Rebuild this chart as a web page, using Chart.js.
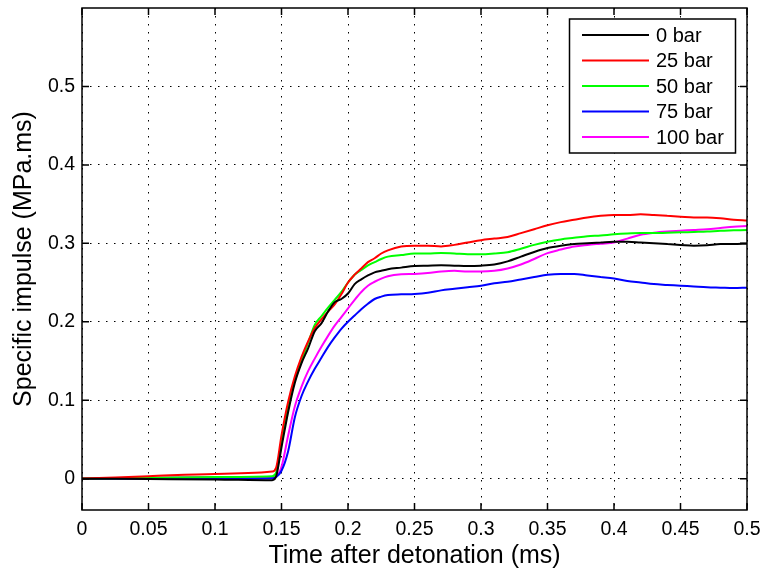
<!DOCTYPE html>
<html>
<head>
    <title>Specific impulse</title>
    <script src="https://cdn.jsdelivr.net/npm/chart.js"></script>
    <style>
        body { margin: 0; background: #fff; }
        .chart-container { width: 763px; height: 571px; }
    </style>
</head>
<body>
<div class="chart-container"><canvas id="impulseChart"></canvas></div>
<script>
// time after detonation (ms)
const time = [0, 0.05, 0.1, 0.143, 0.146,
    0.15, 0.155, 0.16, 0.165, 0.17, 0.175, 0.18, 0.185, 0.19, 0.195, 0.2, 0.205, 0.21, 0.215, 0.22, 0.225, 0.23,
    0.24, 0.25, 0.26, 0.27, 0.28, 0.29, 0.3, 0.31, 0.32, 0.33, 0.34, 0.35, 0.36, 0.37, 0.38, 0.39,
    0.4, 0.41, 0.42, 0.43, 0.44, 0.45, 0.46, 0.47, 0.48, 0.49, 0.5];

// specific impulse (MPa.ms) per initial pressure
const bar0 = [0, -0.0005, -0.001, -0.002, 0.003,
    0.04, 0.085, 0.122, 0.147, 0.166, 0.188, 0.198, 0.213, 0.225, 0.229, 0.236, 0.248, 0.254, 0.259, 0.263, 0.265, 0.267,
    0.269, 0.271, 0.2715, 0.272, 0.2715, 0.271, 0.2715, 0.273, 0.277, 0.283, 0.289, 0.294, 0.297, 0.299, 0.3, 0.301,
    0.302, 0.302, 0.301, 0.3, 0.299, 0.298, 0.297, 0.2975, 0.299, 0.299, 0.2995];
const bar25 = [0, 0.003, 0.006, 0.009, 0.014,
    0.055, 0.098, 0.13, 0.155, 0.175, 0.192, 0.203, 0.213, 0.222, 0.235, 0.25, 0.26, 0.268, 0.276, 0.281, 0.287, 0.291,
    0.296, 0.297, 0.297, 0.296, 0.298, 0.301, 0.304, 0.306, 0.308, 0.313, 0.318, 0.323, 0.327, 0.33, 0.333, 0.335,
    0.336, 0.336, 0.337, 0.336, 0.335, 0.334, 0.333, 0.333, 0.332, 0.33, 0.329];
const bar50 = [0, 0.001, 0.002, 0.003, 0.008,
    0.045, 0.092, 0.125, 0.15, 0.173, 0.196, 0.207, 0.218, 0.228, 0.238, 0.25, 0.26, 0.266, 0.272, 0.276, 0.28, 0.283,
    0.285, 0.287, 0.287, 0.2875, 0.287, 0.286, 0.286, 0.287, 0.2885, 0.293, 0.298, 0.302, 0.305, 0.307, 0.309, 0.31,
    0.3115, 0.3125, 0.313, 0.313, 0.3135, 0.314, 0.3145, 0.315, 0.316, 0.3165, 0.317];
const bar75 = [0, 0, 0, 0.0005, 0.002,
    0.01, 0.035, 0.078, 0.105, 0.124, 0.14, 0.154, 0.168, 0.18, 0.191, 0.2, 0.208, 0.216, 0.223, 0.229, 0.232, 0.234,
    0.235, 0.2355, 0.237, 0.24, 0.242, 0.244, 0.246, 0.249, 0.251, 0.254, 0.257, 0.26, 0.261, 0.261, 0.259, 0.257,
    0.255, 0.252, 0.25, 0.248, 0.247, 0.246, 0.245, 0.244, 0.2435, 0.243, 0.2435];
const bar100 = [0, 0.001, 0.002, 0.002, 0.003,
    0.015, 0.055, 0.092, 0.117, 0.137, 0.153, 0.168, 0.182, 0.195, 0.206, 0.217, 0.228, 0.238, 0.246, 0.251, 0.255, 0.258,
    0.2605, 0.261, 0.262, 0.264, 0.265, 0.264, 0.264, 0.265, 0.268, 0.273, 0.28, 0.2875, 0.292, 0.296, 0.298, 0.2995,
    0.301, 0.306, 0.311, 0.3135, 0.315, 0.316, 0.317, 0.318, 0.3195, 0.321, 0.322];

const seriesNames = ['0 bar', '25 bar', '50 bar', '75 bar', '100 bar'];
const seriesColors = ['#000000', '#ff0000', '#00ff00', '#0000ff', '#ff00ff'];
const seriesValues = [bar0, bar25, bar50, bar75, bar100];

const xTicks = [0, 0.05, 0.1, 0.15, 0.2, 0.25, 0.3, 0.35, 0.4, 0.45, 0.5];
const xTickLabels = ['0', '0.05', '0.1', '0.15', '0.2', '0.25', '0.3', '0.35', '0.4', '0.45', '0.5'];
const yTicks = [0, 0.1, 0.2, 0.3, 0.4, 0.5];
const yTickLabels = ['0', '0.1', '0.2', '0.3', '0.4', '0.5'];

const FONT = '"Liberation Sans", Arial, Helvetica, sans-serif';

const datasets = seriesValues.map((vals, i) => ({
    label: seriesNames[i],
    data: time.map((t, j) => ({ x: t, y: vals[j] })),
    borderColor: seriesColors[i],
    borderWidth: 2,
    pointRadius: 0,
    cubicInterpolationMode: 'monotone',
    fill: false
}));

// no extra room for half tick labels, the plot box is placed by hand
function noPad(s) {
    s.paddingTop = 0; s.paddingBottom = 0;
    s.paddingLeft = 0; s.paddingRight = 0;
}

// axis box, inward tick marks and legend box, drawn on top like MATLAB does
const matlabAxes = {
    id: 'matlabAxes',
    afterDraw(chart) {
        const ctx = chart.ctx;
        const a = chart.chartArea;
        const xs = chart.scales.x, ys = chart.scales.y;
        const tl = 7;
        ctx.save();
        ctx.strokeStyle = '#000';
        ctx.lineWidth = 1.5;
        ctx.setLineDash([]);
        ctx.beginPath();
        xTicks.forEach(v => {
            const px = xs.getPixelForValue(v);
            ctx.moveTo(px, a.bottom); ctx.lineTo(px, a.bottom - tl);
            ctx.moveTo(px, a.top); ctx.lineTo(px, a.top + tl);
        });
        yTicks.forEach(v => {
            const py = ys.getPixelForValue(v);
            ctx.moveTo(a.left, py); ctx.lineTo(a.left + tl, py);
            ctx.moveTo(a.right, py); ctx.lineTo(a.right - tl, py);
        });
        ctx.stroke();
        ctx.strokeRect(a.left, a.top, a.right - a.left, a.bottom - a.top);

        // legend
        const w = 166, h = 134;
        const lx = a.right - 11.5 - w, ly = a.top + 11;
        ctx.fillStyle = '#fff';
        ctx.fillRect(lx, ly, w, h);
        ctx.strokeRect(lx, ly, w, h);
        ctx.font = '20px ' + FONT;
        ctx.textBaseline = 'middle';
        chart.data.datasets.forEach((ds, i) => {
            const ry = ly + 16 + i * 25.5;
            ctx.strokeStyle = ds.borderColor;
            ctx.lineWidth = 2;
            ctx.beginPath();
            ctx.moveTo(lx + 12.5, ry); ctx.lineTo(lx + 79.5, ry);
            ctx.stroke();
            ctx.fillStyle = '#000';
            ctx.fillText(ds.label, lx + 86.5, ry + 1);
        });
        ctx.restore();
    }
};

new Chart(document.getElementById('impulseChart'), {
    type: 'line',
    data: { datasets: datasets },
    plugins: [matlabAxes],
    options: {
        responsive: true,
        maintainAspectRatio: false,
        animation: false,
        events: [],
        layout: { padding: { top: 8, right: 16, left: 0, bottom: 0 } },
        plugins: {
            legend: { display: false },
            tooltip: { enabled: false }
        },
        scales: {
            x: {
                type: 'linear',
                min: 0,
                max: 0.5,
                afterBuildTicks: s => { s.ticks = xTicks.map(v => ({ value: v })); },
                afterFit: s => { s.height = 61; noPad(s); },
                ticks: {
                    color: '#000',
                    font: { family: FONT, size: 19.5 },
                    padding: 8,
                    maxRotation: 0,
                    callback: (v, i) => xTickLabels[i]
                },
                grid: { color: '#000', lineWidth: 1, drawTicks: false },
                border: { display: false, dash: [1.5, 6.5] },
                title: {
                    display: true,
                    text: 'Time after detonation (ms)',
                    color: '#000',
                    font: { family: FONT, size: 25 },
                    padding: { top: 0, bottom: 0 }
                }
            },
            y: {
                type: 'linear',
                min: -0.04,
                max: 0.6,
                afterBuildTicks: s => { s.ticks = yTicks.map(v => ({ value: v })); },
                afterFit: s => { s.width = 82; noPad(s); },
                ticks: {
                    color: '#000',
                    font: { family: FONT, size: 19.5 },
                    padding: 7,
                    callback: (v, i) => yTickLabels[i]
                },
                grid: { color: '#000', lineWidth: 1, drawTicks: false },
                border: { display: false, dash: [1.5, 6.5] },
                title: {
                    display: true,
                    text: 'Specific impulse (MPa.ms)',
                    color: '#000',
                    font: { family: FONT, size: 25 },
                    padding: { top: 9, bottom: 0 }
                }
            }
        }
    }
});
</script>
</body>
</html>
